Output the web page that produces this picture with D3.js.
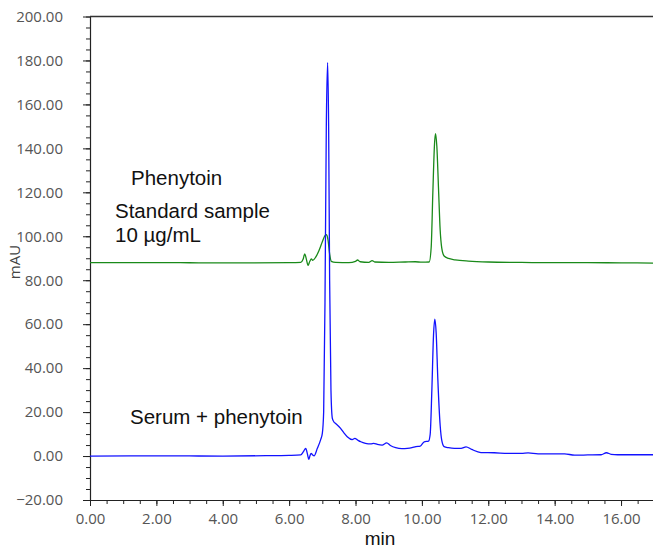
<!DOCTYPE html>
<html>
<head>
<meta charset="utf-8">
<script src="https://cdn.jsdelivr.net/npm/d3@7"></script>
<style>
  body { margin: 0; background: #fff; }
  svg { display: block; }
</style>
</head>
<body>
<div id="chart-area"></div>
<script>
// Chromatogram data (min, mAU)
var stdTime = [0, 2, 4, 6.0, 6.35, 6.42, 6.47, 6.52, 6.57, 6.62, 6.67, 6.71, 6.8, 6.9, 7.0, 7.08, 7.12, 7.17, 7.22, 7.27, 7.4, 7.8, 8.0, 8.06, 8.14, 8.4, 8.5, 8.58, 9.0, 9.5, 9.8, 10.0, 10.22, 10.28, 10.33, 10.38, 10.41, 10.45, 10.5, 10.55, 10.6, 10.67, 10.8, 11.0, 11.4, 12, 13, 14, 15, 16, 17];
var stdValue = [88.0, 88.0, 87.9, 88.0, 88.1, 89.5, 92.0, 89.5, 86.8, 88.5, 89.7, 89.0, 90.5, 93.5, 97.5, 100.3, 100.7, 98.5, 92.0, 88.6, 88.1, 88.0, 88.6, 89.2, 88.4, 88.1, 88.9, 88.3, 88.1, 88.3, 88.4, 88.2, 88.3, 95, 120, 142, 146.7, 141, 122, 103, 94.5, 91.0, 89.9, 89.3, 88.7, 88.3, 88.1, 88.0, 88.0, 87.9, 87.8];

var serumTime = [0, 2, 4, 5.5, 6.0, 6.35, 6.43, 6.5, 6.55, 6.59, 6.63, 6.66, 6.71, 6.75, 6.85, 6.95, 7.0, 7.04, 7.08, 7.12, 7.16, 7.19, 7.22, 7.26, 7.3, 7.35, 7.4, 7.55, 7.65, 7.75, 7.9, 7.98, 8.06, 8.16, 8.3, 8.46, 8.55, 8.66, 8.8, 8.94, 9.05, 9.21, 9.4, 9.56, 9.7, 9.82, 9.95, 10.07, 10.2, 10.25, 10.3, 10.35, 10.39, 10.43, 10.48, 10.55, 10.6, 10.67, 10.8, 10.98, 11.18, 11.33, 11.5, 11.78, 12.18, 12.6, 13.0, 13.2, 13.5, 13.9, 14.3, 14.6, 15.0, 15.4, 15.56, 15.7, 15.9, 17];
var serumValue = [0, 0.1, 0, 0.2, 0.3, 0.5, 2.0, 3.5, 1.0, -1.5, 0.2, 1.2, 0.5, 0.1, 3.5, 7.5, 10.3, 20, 70, 150, 179, 150, 80, 30, 17.3, 15.5, 14.8, 12.6, 10.5, 8.8, 7.5, 8.0, 7.3, 6.5, 5.8, 5.5, 5.8, 5.3, 5.0, 6.0, 4.8, 3.8, 3.4, 3.5, 3.8, 4.3, 4.5, 6.5, 6.8, 10, 30, 55, 62.3, 56, 35, 14, 7, 4.3, 3.8, 3.5, 3.5, 4.2, 3.0, 1.6, 1.5, 1.2, 1.2, 1.4, 1.0, 1.0, 1.0, 0.4, 0.5, 0.6, 1.5, 0.8, 0.6, 0.6];

var xTicks = [0, 2, 4, 6, 8, 10, 12, 14, 16];
var yTicks = [-20, 0, 20, 40, 60, 80, 100, 120, 140, 160, 180, 200];

var labels = [
  { text: "Phenytoin", x: 131, y: 185 },
  { text: "Standard sample", x: 115, y: 218 },
  { text: "10 \u00b5g/mL", x: 115, y: 242 },
  { text: "Serum + phenytoin", x: 130, y: 424 }
];

var W = 653, H = 548;
var plotLeft = 90, plotTop = 16.5, plotBottom = 500;

var svg = d3.select("#chart-area")
  .append("svg")
    .attr("width", W)
    .attr("height", H);

var x = d3.scaleLinear().domain([0, 17]).range([plotLeft, plotLeft + 17 * 33.19]);
var y = d3.scaleLinear().domain([-20, 200]).range([plotBottom, plotTop]);

// minor ticks
var xMinor = d3.range(0, 17.01, 0.5);
var yMinor = d3.range(-20, 200.01, 5);

var xAxisG = svg.append("g")
  .attr("transform", "translate(0," + plotBottom + ")");
xAxisG.call(d3.axisBottom(x).tickValues(xMinor).tickSize(4).tickFormat(""));
xAxisG.call(g => g.select(".domain").remove());

var xAxisMajor = svg.append("g")
  .attr("transform", "translate(0," + plotBottom + ")")
  .call(d3.axisBottom(x).tickValues(xTicks).tickSize(6).tickSizeOuter(0).tickPadding(4)
    .tickFormat(d3.format(".2f")));

var yAxisG = svg.append("g")
  .attr("transform", "translate(" + plotLeft + ",0)");
yAxisG.call(d3.axisLeft(y).tickValues(yMinor).tickSize(4).tickFormat(""));
yAxisG.call(g => g.select(".domain").remove());

var yAxisMajor = svg.append("g")
  .attr("transform", "translate(" + plotLeft + ",0)")
  .call(d3.axisLeft(y).tickValues(yTicks).tickSize(7).tickSizeOuter(0).tickPadding(20)
    .tickFormat(d3.format(".2f")));

svg.selectAll(".tick line").attr("stroke", "#222");
svg.selectAll(".domain").attr("stroke", "#222").attr("stroke-width", 1.2);
svg.selectAll(".tick text")
  .attr("font-family", "'Open Sans', sans-serif")
  .attr("font-size", "15px")
  .attr("fill", "#555");
xAxisMajor.selectAll(".tick text").attr("dy", "0.95em");

// top frame line
svg.append("line")
  .attr("x1", plotLeft).attr("x2", W)
  .attr("y1", y(200)).attr("y2", y(200))
  .attr("stroke", "#333")
  .attr("stroke-width", 1.3);

// axis titles
svg.append("text")
  .attr("x", 380)
  .attr("y", 545)
  .attr("text-anchor", "middle")
  .attr("font-family", "'Liberation Sans', Arial, sans-serif")
  .attr("font-size", "19px")
  .attr("fill", "#111")
  .text("min");

svg.append("text")
  .attr("transform", "translate(20,262) rotate(-90)")
  .attr("text-anchor", "middle")
  .attr("font-family", "'Open Sans', sans-serif")
  .attr("font-size", "15px")
  .attr("fill", "#444")
  .text("mAU");

// traces
var line = d3.line()
  .x(d => x(d[0]))
  .y(d => y(d[1]))
  .curve(d3.curveMonotoneX);

var traces = [
  { data: d3.zip(stdTime, stdValue), color: "#1a8a1a" },
  { data: d3.zip(serumTime, serumValue), color: "#1212ff" }
];

svg.selectAll("path.trace")
  .data(traces)
  .enter()
  .append("path")
    .attr("class", "trace")
    .attr("d", d => line(d.data))
    .attr("fill", "none")
    .attr("stroke", d => d.color)
    .attr("stroke-width", 1.3);

// annotations
svg.selectAll("text.note")
  .data(labels)
  .enter()
  .append("text")
    .attr("class", "note")
    .attr("x", d => d.x)
    .attr("y", d => d.y)
    .attr("font-family", "'Liberation Sans', Arial, sans-serif")
    .attr("font-size", "20.5px")
    .attr("fill", "#111")
    .text(d => d.text);
</script>
</body>
</html>
